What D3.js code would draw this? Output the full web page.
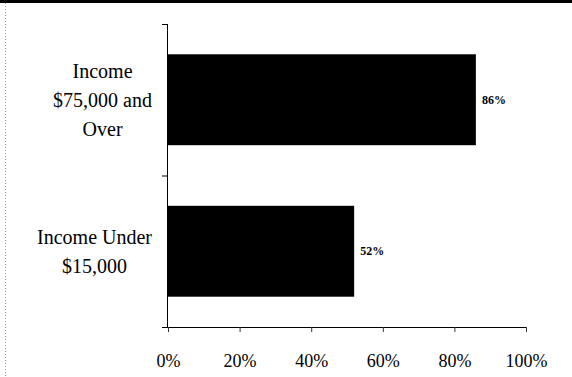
<!DOCTYPE html>
<html>
<head>
<meta charset="utf-8">
<style>
  body { margin: 0; background: #fff; }
  svg { display: block; }
</style>
</head>
<body>
<svg width="572" height="377"></svg>
<script src="https://d3js.org/d3.v7.min.js"></script>
<script>
// data
var categories = [["Income", "$75,000 and", "Over"], ["Income Under", "$15,000"]];
var values = [86, 52];
var ticks = [0, 20, 40, 60, 80, 100];

var svg = d3.select("svg"),
    margin = {top: 24, right: 46, bottom: 50, left: 168},
    width = +svg.attr("width") - margin.left - margin.right,
    height = +svg.attr("height") - margin.top - margin.bottom,
    g = svg.append("g").attr("transform", "translate(" + margin.left + "," + margin.top + ")");

var font = "'Liberation Serif', 'DejaVu Serif', serif";

// page frame bits from the scan
svg.append("rect").attr("x", 0).attr("y", 0).attr("width", 572).attr("height", 3).attr("fill", "#000");
svg.append("line").attr("x1", 5.5).attr("x2", 5.5).attr("y1", 3).attr("y2", 377)
    .attr("stroke", "#999").attr("stroke-dasharray", "1,2");

var x = d3.scaleLinear().domain([0, 100]).range([0, width]);
var y = d3.scaleBand().domain(d3.range(values.length)).range([0, height]).paddingInner(0.4).paddingOuter(0.2);

g.selectAll(".bar")
  .data(values)
  .enter().append("rect")
    .attr("class", "bar")
    .attr("x", 0)
    .attr("y", function(d, i) { return y(i); })
    .attr("width", function(d) { return x(d); })
    .attr("height", y.bandwidth())
    .attr("fill", "#000");

g.selectAll(".val")
  .data(values)
  .enter().append("text")
    .attr("class", "val")
    .attr("x", function(d) { return x(d) + 6; })
    .attr("y", function(d, i) { return y(i) + y.bandwidth() / 2; })
    .attr("dy", "0.35em")
    .attr("font-family", font)
    .attr("font-size", 12)
    .attr("font-weight", "bold")
    .text(function(d) { return d + "%"; });

// x axis
var xAxis = g.append("g")
    .attr("transform", "translate(0," + height + ")")
    .call(d3.axisBottom(x).tickValues(ticks).tickSize(5).tickPadding(22).tickFormat(function(d) { return d + "%"; }));
xAxis.select(".domain").attr("d", "M-6,0.5H" + (width + 0.5)).attr("stroke", "#000");
xAxis.selectAll(".tick line").attr("stroke", "#333");
xAxis.selectAll("text").attr("font-family", font).attr("font-size", 18).attr("fill", "#000");

// y axis: ticks at band boundaries
var yAxis = g.append("g");
yAxis.append("line").attr("x1", -0.5).attr("x2", -0.5).attr("y1", 0).attr("y2", height).attr("stroke", "#000");
yAxis.selectAll(".ytick")
  .data([0, height / 2, height])
  .enter().append("line")
    .attr("x1", -6).attr("x2", 0)
    .attr("y1", function(d) { return d + 0.5; })
    .attr("y2", function(d) { return d + 0.5; })
    .attr("stroke", "#000");

// category labels: block right-aligned near the axis, lines centred in the block
var labels = g.selectAll(".cat")
  .data(categories)
  .enter().append("text")
    .attr("class", "cat")
    .attr("text-anchor", "middle")
    .attr("font-family", font)
    .attr("font-size", 20)
    .attr("fill", "#000")
    .attr("transform", function(d, i) { return "translate(-60," + (y(i) + y.bandwidth() / 2) + ")"; });

labels.selectAll("tspan")
  .data(function(d) { return d; })
  .enter().append("tspan")
    .attr("x", 0)
    .attr("y", function(d, i, nodes) { return (i - (nodes.length - 1) / 2) * 29; })
    .attr("dy", "0.35em")
    .text(function(d) { return d; });

labels.each(function(d, i) {
  var w = d3.max(d3.select(this).selectAll("tspan").nodes(), function(n) { return n.getComputedTextLength(); });
  d3.select(this).attr("transform", "translate(" + (-16 - w / 2) + "," + (y(i) + y.bandwidth() / 2) + ")");
});
</script>
</body>
</html>
